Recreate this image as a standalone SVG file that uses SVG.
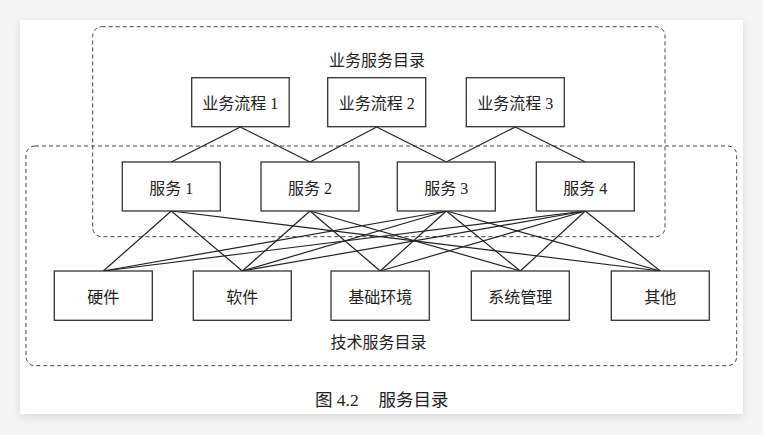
<svg xmlns="http://www.w3.org/2000/svg" width="763" height="435" viewBox="0 0 763 435">
  <defs>
    <filter id="shadow" x="-5%" y="-5%" width="110%" height="115%">
      <feDropShadow dx="0" dy="3" stdDeviation="5" flood-color="#000" flood-opacity="0.12"/>
    </filter>
    <style>
      .box { fill: #fff; stroke: #333; stroke-width: 1.3; }
      .dash { fill: none; stroke: #444; stroke-width: 1; stroke-dasharray: 4 3; }
      .lbl { font-family: "Liberation Serif", "Noto Sans CJK SC", serif; font-size: 16px; fill: #222; text-anchor: middle; }
      .cap { font-family: "Liberation Serif", "Noto Sans CJK SC", serif; font-size: 17.5px; fill: #222; }
      .conn line { stroke: #222; stroke-width: 1.2; }
    </style>
  </defs>
  <rect x="0" y="0" width="763" height="435" fill="#f5f5f5"/>
  <rect x="20" y="20" width="723" height="394" fill="#fff" filter="url(#shadow)"/>

  <g id="business-catalog">
    <rect class="dash" x="92.7" y="26.7" width="572.3" height="210" rx="9"/>
    <text class="lbl" x="377" y="66">业务服务目录</text>
  </g>
  <g id="tech-catalog">
    <rect class="dash" x="26" y="146" width="710.7" height="219.7" rx="9"/>
    <text class="lbl" x="378.5" y="348">技术服务目录</text>
  </g>

  <g class="conn" id="connectors">
    <line x1="240.3" y1="127" x2="171.3" y2="162"/>
    <line x1="240.3" y1="127" x2="310" y2="162"/>
    <line x1="376.7" y1="127" x2="310" y2="162"/>
    <line x1="376.7" y1="127" x2="446.3" y2="162"/>
    <line x1="515.3" y1="127" x2="446.3" y2="162"/>
    <line x1="515.3" y1="127" x2="585.3" y2="162"/>

    <line x1="171.3" y1="211" x2="103.3" y2="271"/>
    <line x1="171.3" y1="211" x2="242.3" y2="271"/>
    <line x1="171.3" y1="211" x2="660.3" y2="271"/>

    <line x1="310" y1="211" x2="242.3" y2="271"/>
    <line x1="310" y1="211" x2="380.2" y2="271"/>
    <line x1="310" y1="211" x2="520.3" y2="271"/>

    <line x1="446.3" y1="211" x2="103.3" y2="271"/>
    <line x1="446.3" y1="211" x2="242.3" y2="271"/>
    <line x1="446.3" y1="211" x2="380.2" y2="271"/>
    <line x1="446.3" y1="211" x2="520.3" y2="271"/>
    <line x1="446.3" y1="211" x2="660.3" y2="271"/>

    <line x1="585.3" y1="211" x2="103.3" y2="271"/>
    <line x1="585.3" y1="211" x2="242.3" y2="271"/>
    <line x1="585.3" y1="211" x2="380.2" y2="271"/>
    <line x1="585.3" y1="211" x2="520.3" y2="271"/>
    <line x1="585.3" y1="211" x2="660.3" y2="271"/>
  </g>

  <g id="p1"><rect class="box" x="191.7" y="77.7" width="97.5" height="49"/><text class="lbl" x="240.3" y="109">业务流程 1</text></g>
  <g id="p2"><rect class="box" x="327.7" y="77.7" width="98" height="49"/><text class="lbl" x="376.7" y="109">业务流程 2</text></g>
  <g id="p3"><rect class="box" x="466.3" y="77.7" width="98" height="49"/><text class="lbl" x="515.3" y="109">业务流程 3</text></g>

  <g id="s1"><rect class="box" x="122.3" y="162" width="98" height="49"/><text class="lbl" x="171.3" y="193.5">服务 1</text></g>
  <g id="s2"><rect class="box" x="261" y="162" width="98" height="49"/><text class="lbl" x="310" y="193.5">服务 2</text></g>
  <g id="s3"><rect class="box" x="397.3" y="162" width="98" height="49"/><text class="lbl" x="446.3" y="193.5">服务 3</text></g>
  <g id="s4"><rect class="box" x="536.3" y="162" width="98" height="49"/><text class="lbl" x="585.3" y="193.5">服务 4</text></g>

  <g id="hardware"><rect class="box" x="54.3" y="271" width="98" height="49.3"/><text class="lbl" x="103.3" y="302.5">硬件</text></g>
  <g id="software"><rect class="box" x="193.3" y="271" width="98" height="49.3"/><text class="lbl" x="242.3" y="302.5">软件</text></g>
  <g id="infra"><rect class="box" x="331" y="271" width="98.3" height="49.3"/><text class="lbl" x="380.2" y="302.5">基础环境</text></g>
  <g id="sysmgmt"><rect class="box" x="471.3" y="271" width="98" height="49.3"/><text class="lbl" x="520.3" y="302.5">系统管理</text></g>
  <g id="other"><rect class="box" x="611.3" y="271" width="98" height="49.3"/><text class="lbl" x="660.3" y="302.5">其他</text></g>

  <text class="cap" x="315" y="406">图 4.2<tspan x="378.5">服务目录</tspan></text>
</svg>
